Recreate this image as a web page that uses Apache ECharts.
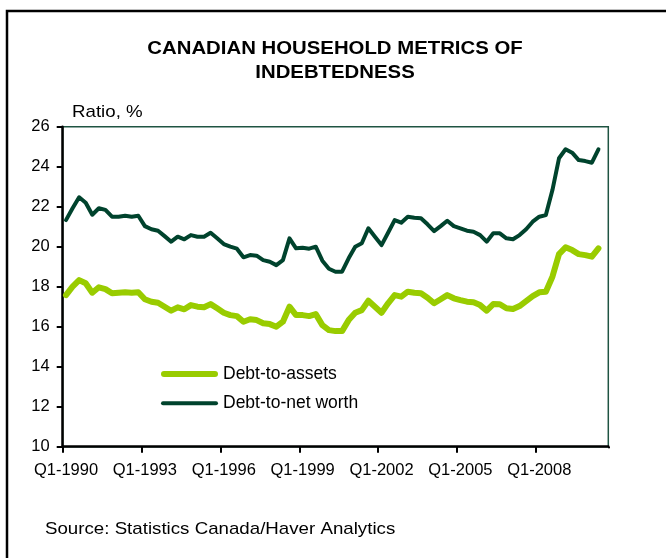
<!DOCTYPE html>
<html>
<head>
<meta charset="utf-8">
<script src="https://cdn.jsdelivr.net/npm/echarts@6/dist/echarts.min.js"></script>
<style>
  html, body { margin: 0; padding: 0; background: #fff; }
  #chart { width: 666px; height: 558px; }
</style>
</head>
<body>
<div id="chart"></div>
<script>
// Quarterly categories, Q1-1990 through Q3-2010
var firstYear = 1990;
var quarterCount = 83;
var categories = [];
for (var k = 0; k < quarterCount; k++) {
  categories.push('Q' + (k % 4 + 1) + '-' + (firstYear + Math.floor(k / 4)));
}

var seriesNames = ['Debt-to-assets', 'Debt-to-net worth'];

// Household debt as a share of total assets, %
var debtToAssets = [
  17.58, 18.00, 18.33, 18.17, 17.70, 17.97, 17.88, 17.67, 17.70, 17.72,
  17.70, 17.72, 17.37, 17.25, 17.20, 17.00, 16.80, 16.97, 16.87, 17.08,
  17.00, 16.97, 17.13, 16.92, 16.70, 16.58, 16.53, 16.25, 16.37, 16.33,
  16.17, 16.13, 16.00, 16.25, 17.00, 16.58, 16.58, 16.53, 16.63, 16.08,
  15.83, 15.78, 15.78, 16.33, 16.70, 16.83, 17.30, 17.00, 16.70, 17.17,
  17.58, 17.50, 17.75, 17.70, 17.67, 17.45, 17.17, 17.37, 17.58, 17.42,
  17.33, 17.25, 17.22, 17.08, 16.80, 17.13, 17.12, 16.92, 16.88, 17.03,
  17.28, 17.53, 17.72, 17.75, 18.50, 19.63, 19.97, 19.83, 19.63, 19.58,
  19.50, 19.92
];

// Household debt as a share of net worth, %
var debtToNetWorth = [
  21.33, 21.92, 22.47, 22.20, 21.60, 21.92, 21.84, 21.50, 21.50, 21.55,
  21.50, 21.55, 21.03, 20.87, 20.80, 20.53, 20.25, 20.50, 20.37, 20.58,
  20.50, 20.50, 20.70, 20.42, 20.13, 20.00, 19.90, 19.47, 19.58, 19.55,
  19.33, 19.25, 19.08, 19.33, 20.42, 19.92, 19.95, 19.90, 20.00, 19.30,
  18.90, 18.75, 18.75, 19.42, 20.00, 20.17, 20.92, 20.50, 20.08, 20.70,
  21.33, 21.20, 21.50, 21.45, 21.42, 21.12, 20.78, 21.03, 21.30, 21.03,
  20.92, 20.80, 20.75, 20.58, 20.25, 20.67, 20.67, 20.42, 20.37, 20.58,
  20.87, 21.25, 21.50, 21.58, 22.83, 24.42, 24.87, 24.70, 24.33, 24.28,
  24.20, 24.87
];

var FONT = "'Liberation Sans', Arial, sans-serif";
var LIGHT = '#99cc00';
var DARK = '#00432d';

var chart = echarts.init(document.getElementById('chart'), null, { renderer: 'canvas' });

chart.setOption({
  backgroundColor: '#ffffff',
  animation: false,
  textStyle: { fontFamily: FONT },
  grid: {
    left: 62.7, right: 57.7, top: 126.7, bottom: 111.3,
    show: true, borderColor: '#1f5442', borderWidth: 1.5,
    backgroundColor: 'transparent'
  },
  graphic: [
    {
      type: 'polyline', silent: true,
      shape: { points: [[7, 560], [7, 11], [668, 11]] },
      style: { stroke: '#000', lineWidth: 2.5, fill: null }
    },
    {
      // the category axis always adds a closing tick at the far end; the frame has none there
      type: 'rect', silent: true, z: 100,
      shape: { x: 604, y: 448.3, width: 10, height: 8 },
      style: { fill: '#fff' }
    },
    {
      type: 'text', x: 335, y: 61, scaleX: 1.1,
      style: {
        text: 'CANADIAN HOUSEHOLD METRICS OF\nINDEBTEDNESS',
        fontFamily: FONT, fontWeight: 'bold', fontSize: 18.5, lineHeight: 23.4,
        fill: '#000', align: 'center', verticalAlign: 'middle'
      }
    },
    {
      type: 'text', x: 72, y: 112, scaleX: 1.1,
      style: {
        text: 'Ratio, %', fontFamily: FONT, fontSize: 17,
        fill: '#000', align: 'left', verticalAlign: 'middle'
      }
    },
    {
      type: 'text', x: 45, y: 529, scaleX: 1.1,
      style: {
        text: 'Source: Statistics Canada/Haver Analytics', fontFamily: FONT, fontSize: 17,
        fill: '#000', align: 'left', verticalAlign: 'middle'
      }
    }
  ],
  legend: {
    orient: 'vertical',
    left: 156, top: 359,
    itemWidth: 57, itemHeight: 6, itemGap: 9.3,
    selectedMode: false,
    textStyle: { fontFamily: FONT, fontSize: 17.5, color: '#000', lineHeight: 20 },
    data: [
      { name: seriesNames[0], icon: 'path://M3,0 L54,0 A3,3 0 0 1 54,6 L3,6 A3,3 0 0 1 3,0 Z', itemStyle: { color: LIGHT } },
      { name: seriesNames[1], icon: 'path://M2,0 L55,0 A2,2 0 0 1 55,4 L2,4 A2,2 0 0 1 2,0 Z', itemStyle: { color: DARK } }
    ]
  },
  xAxis: {
    type: 'category',
    data: categories,
    boundaryGap: true,
    axisLine: { show: true, lineStyle: { color: '#000', width: 2.5 } },
    axisTick: { show: true, interval: 11, length: 6, lineStyle: { color: '#000', width: 2 } },
    axisLabel: { interval: 11, color: '#000', fontFamily: FONT, fontSize: 16.5, margin: 15 },
    splitLine: { show: false }
  },
  yAxis: {
    type: 'value',
    min: 10, max: 26, interval: 2,
    axisLine: { show: true, lineStyle: { color: '#000', width: 2.5 } },
    axisTick: { show: true, length: 6, lineStyle: { color: '#000', width: 2 } },
    axisLabel: { color: '#000', fontFamily: FONT, fontSize: 16.5, margin: 13 },
    splitLine: { show: false }
  },
  series: [
    {
      name: seriesNames[0], type: 'line', data: debtToAssets,
      symbol: 'none', smooth: false,
      lineStyle: { color: LIGHT, width: 6, cap: 'round', join: 'round' },
      itemStyle: { color: LIGHT }
    },
    {
      name: seriesNames[1], type: 'line', data: debtToNetWorth,
      symbol: 'none', smooth: false,
      lineStyle: { color: DARK, width: 4, cap: 'round', join: 'round' },
      itemStyle: { color: DARK }
    }
  ]
});
</script>
</body>
</html>
